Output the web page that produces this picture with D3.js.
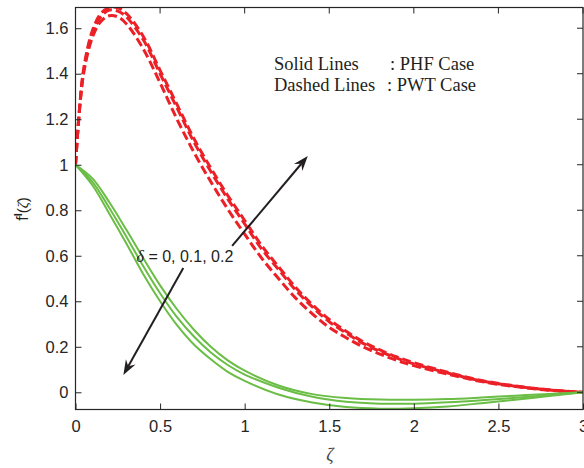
<!DOCTYPE html>
<html>
<head>
<meta charset="utf-8">
<script src="https://cdn.jsdelivr.net/npm/d3@7"></script>
<style>
  body { margin: 0; background: #fff; }
  svg { display: block; }
</style>
</head>
<body>
<svg width="584" height="468"></svg>
<script>
// zeta grid for the solid (PHF) curves
const zetaG = [0, 0.1, 0.2, 0.3, 0.4, 0.5, 0.6, 0.7, 0.8, 0.9, 1.0, 1.2, 1.4, 1.6, 1.8, 2.0, 2.2, 2.4, 2.6, 2.8, 3.0]
const phf0 = [1, 0.94, 0.835, 0.715, 0.59, 0.47, 0.365, 0.275, 0.2, 0.14, 0.095, 0.03, -0.008, -0.025, -0.032, -0.033, -0.03, -0.023, -0.015, -0.007, 0]
const phf1 = [1, 0.925, 0.81, 0.685, 0.555, 0.435, 0.33, 0.245, 0.175, 0.12, 0.078, 0.02, -0.02, -0.042, -0.05, -0.05, -0.044, -0.035, -0.024, -0.012, 0]
const phf2 = [1, 0.91, 0.785, 0.655, 0.52, 0.4, 0.295, 0.21, 0.145, 0.09, 0.05, -0.01, -0.045, -0.065, -0.072, -0.07, -0.062, -0.048, -0.033, -0.016, 0]

// zeta grid for the dashed (PWT) curves
const zetaR = [0, 0.025, 0.05, 0.1, 0.15, 0.2, 0.25, 0.3, 0.4, 0.5, 0.6, 0.7, 0.8, 0.9, 1.0, 1.1, 1.2, 1.3, 1.4, 1.5, 1.6, 1.7, 1.8, 1.9, 2.0, 2.2, 2.4, 2.6, 2.8, 3.0]
const pwt0 = [1, 1.25, 1.41, 1.56, 1.63, 1.655, 1.65, 1.62, 1.51, 1.36, 1.2, 1.055, 0.925, 0.805, 0.695, 0.59, 0.5, 0.415, 0.345, 0.285, 0.24, 0.2, 0.168, 0.14, 0.117, 0.08, 0.047, 0.025, 0.009, 0]
const pwt1 = [1, 1.255, 1.42, 1.58, 1.65, 1.68, 1.675, 1.65, 1.55, 1.4, 1.25, 1.1, 0.97, 0.85, 0.74, 0.63, 0.54, 0.45, 0.375, 0.31, 0.26, 0.215, 0.18, 0.15, 0.125, 0.085, 0.05, 0.027, 0.01, 0]
const pwt2 = [1, 1.26, 1.43, 1.59, 1.665, 1.69, 1.69, 1.665, 1.565, 1.415, 1.265, 1.115, 0.985, 0.865, 0.755, 0.645, 0.552, 0.462, 0.385, 0.32, 0.268, 0.222, 0.186, 0.155, 0.13, 0.088, 0.052, 0.028, 0.011, 0]

const xTicks = [0, 0.5, 1, 1.5, 2, 2.5, 3]
const yTicks = [0, 0.2, 0.4, 0.6, 0.8, 1, 1.2, 1.4, 1.6]

// arrow annotations in data units [from, to]
const arrowUp = [[0.926, 0.643], [1.373, 1.038]]
const arrowDown = [[0.637, 0.546], [0.283, 0.076]]

const svg = d3.select('svg')
const mLeft = 75.5, mRight = 583, mTop = 7.5, mBottom = 409.5
const axisColor = '#262626'
const sans = "'Liberation Sans', Arial, sans-serif"
const serif = "'Liberation Serif', 'Times New Roman', serif"

const x = d3.scaleLinear().domain([0, 3]).range([mLeft, mRight])
const y = d3.scaleLinear().domain([-0.0756, 1.691]).range([mBottom, mTop])

svg.append('defs').append('clipPath').attr('id', 'plot')
  .append('rect').attr('x', mLeft).attr('y', mTop)
  .attr('width', mRight - mLeft).attr('height', mBottom - mTop)

const line = d3.line()
  .x(d => x(d[0]))
  .y(d => y(d[1]))
  .curve(d3.curveCatmullRom.alpha(0.5))

const curves = svg.append('g').attr('clip-path', 'url(#plot)')

// dashed PWT curves
;[pwt0, pwt1, pwt2].forEach(s => {
  curves.append('path')
    .attr('d', line(zetaR.map((z, i) => [z, s[i]])))
    .attr('fill', 'none')
    .attr('stroke', '#ec2027')
    .attr('stroke-width', 3)
    .attr('stroke-dasharray', '9,4')
})

// solid PHF curves
;[phf0, phf1, phf2].forEach(s => {
  curves.append('path')
    .attr('d', line(zetaG.map((z, i) => [z, s[i]])))
    .attr('fill', 'none')
    .attr('stroke', '#6abd45')
    .attr('stroke-width', 2)
})

// axes with inward ticks
const xAxis = svg.append('g')
  .attr('transform', `translate(0,${mBottom})`)
  .call(d3.axisBottom(x).tickValues(xTicks).tickSizeInner(-6).tickSizeOuter(0).tickPadding(11)
    .tickFormat(d3.format('')))
const yAxis = svg.append('g')
  .attr('transform', `translate(${mLeft},0)`)
  .call(d3.axisLeft(y).tickValues(yTicks).tickSizeInner(-6).tickSizeOuter(0).tickPadding(7)
    .tickFormat(d3.format('')))

;[xAxis, yAxis].forEach(a => {
  a.select('.domain').remove()
  a.selectAll('line').attr('stroke', axisColor)
  a.selectAll('text')
    .attr('fill', axisColor)
    .style('font-family', sans)
    .style('font-size', '16.5px')
})

// top and right ticks
svg.append('g').selectAll('line').data(xTicks).join('line')
  .attr('x1', d => x(d)).attr('x2', d => x(d))
  .attr('y1', mTop).attr('y2', mTop + 6)
  .attr('stroke', axisColor)
svg.append('g').selectAll('line').data(yTicks).join('line')
  .attr('x1', mRight).attr('x2', mRight - 6)
  .attr('y1', d => y(d)).attr('y2', d => y(d))
  .attr('stroke', axisColor)

svg.append('rect')
  .attr('x', mLeft).attr('y', mTop)
  .attr('width', mRight - mLeft).attr('height', mBottom - mTop)
  .attr('fill', 'none')
  .attr('stroke', axisColor)
  .attr('stroke-width', 1.2)

// arrows
const drawArrow = function (a) {
  const x1 = x(a[0][0]), y1 = y(a[0][1]), x2 = x(a[1][0]), y2 = y(a[1][1])
  const ang = Math.atan2(y2 - y1, x2 - x1)
  const L = 15, W = 5.5, N = 10
  const ux = Math.cos(ang), uy = Math.sin(ang)
  const px = -uy, py = ux
  svg.append('line')
    .attr('x1', x1).attr('y1', y1)
    .attr('x2', x2 - ux * N).attr('y2', y2 - uy * N)
    .attr('stroke', '#231f20').attr('stroke-width', 2)
  const pts = [
    [x2, y2],
    [x2 - ux * L + px * W, y2 - uy * L + py * W],
    [x2 - ux * N, y2 - uy * N],
    [x2 - ux * L - px * W, y2 - uy * L - py * W]
  ]
  svg.append('path')
    .attr('d', 'M' + pts.map(p => p.join(',')).join('L') + 'Z')
    .attr('fill', '#231f20')
}
drawArrow(arrowUp)
drawArrow(arrowDown)

// delta annotation
const dText = svg.append('text')
  .attr('x', 136.5).attr('y', 262)
  .attr('fill', '#231f20')
  .style('font-family', sans)
  .style('font-size', '16px')
dText.append('tspan').text('δ')
  .style('font-family', serif)
  .style('font-style', 'italic')
dText.append('tspan').text(' = 0, 0.1, 0.2')

// legend text
const legend = [
  ['Solid Lines', ': PHF Case', 390, 69.5],
  ['Dashed Lines', ': PWT Case', 387, 91]
]
legend.forEach(r => {
  svg.append('text').attr('x', 274).attr('y', r[3]).text(r[0])
    .attr('fill', '#231f20').style('font-family', serif).style('font-size', '18.5px')
  svg.append('text').attr('x', r[2]).attr('y', r[3]).text(r[1])
    .attr('fill', '#231f20').style('font-family', serif).style('font-size', '18.5px')
})

// axis labels
svg.append('text')
  .attr('x', 330).attr('y', 461)
  .attr('text-anchor', 'middle')
  .attr('fill', '#444')
  .style('font-family', serif)
  .style('font-style', 'italic')
  .style('font-size', '18px')
  .text('ζ')

const yLab = svg.append('text')
  .attr('transform', 'translate(28,209) rotate(-90)')
  .attr('text-anchor', 'middle')
  .attr('fill', '#231f20')
  .style('font-family', sans)
yLab.append('tspan').text('f').style('font-size', '16px')
yLab.append('tspan').text('I').attr('dy', -6).style('font-size', '11px').style('font-weight', 'bold')
yLab.append('tspan').text('(').attr('dy', 6).style('font-size', '15px')
yLab.append('tspan').text('ζ').style('font-size', '15px').style('font-family', serif).style('font-style', 'italic')
yLab.append('tspan').text(')').style('font-size', '15px')
</script>
</body>
</html>
